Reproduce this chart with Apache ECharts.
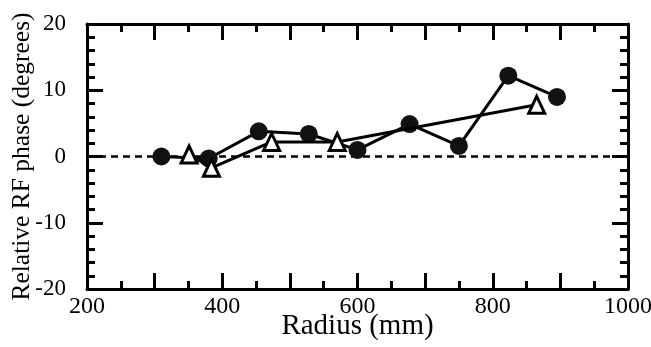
<!DOCTYPE html>
<html><head><meta charset="utf-8">
<script src="https://cdn.jsdelivr.net/npm/echarts@6/dist/echarts.min.js"></script>
<style>html,body{margin:0;padding:0;background:#fff}#c{width:651px;height:347px}</style>
</head><body><div id="c"></div>
<script>
var circleX = [310, 380, 454, 528, 600, 677, 750, 823, 895];
var circleY = [0, -0.3, 3.8, 3.4, 1.0, 4.9, 1.6, 12.2, 9.0];
var triX = [351, 384, 473, 570, 865];
var triY = [0.3, -1.7, 2.2, 2.2, 7.8];
var xTicks = [200, 400, 600, 800, 1000];
var yTicks = [-20, -10, 0, 10, 20];

function pairs(xs, ys){ return xs.map(function(x,i){ return [x, ys[i]]; }); }
var F = 'Liberation Serif';
var chart = echarts.init(document.getElementById('c'));
function axLine(){ return {show:true, onZero:false, lineStyle:{color:'#000', width:3}}; }
function xa(pos, showLab){
  return {
    type:'value', position:pos, min:200, max:1000, interval:100,
    axisLine:axLine(),
    axisTick:{show:true, inside:true, length:16, lineStyle:{color:'#000', width:3}},
    minorTick:{show:true, splitNumber:2, length:8, lineStyle:{color:'#000', width:3}},
    splitLine:{show:false},
    axisLabel:{show:showLab, margin:6, color:'#000', fontFamily:F, fontSize:24,
      formatter:function(v){ return xTicks.indexOf(v)>=0 ? String(v) : ''; }},
    name: showLab ? 'Radius (mm)' : '', nameLocation:'middle', nameGap:23, nameMoveOverlap:false,
    nameTextStyle:{color:'#000', fontFamily:F, fontSize:29}
  };
}
function ya(pos, showLab){
  return {
    type:'value', position:pos, min:-20, max:20, interval:10,
    axisLine:axLine(),
    axisTick:{show:true, inside:true, length:16, lineStyle:{color:'#000', width:3}},
    minorTick:{show:true, splitNumber:5, length:8, lineStyle:{color:'#000', width:3}},
    splitLine:{show:false},
    axisLabel:{show:showLab, margin:21, color:'#000', fontFamily:F, fontSize:23,
      formatter:function(v){ return yTicks.indexOf(v)>=0 ? String(v) : ''; }},
    name: showLab ? 'Relative RF phase (degrees)' : '', nameLocation:'middle', nameGap:52, nameMoveOverlap:false,
    nameTextStyle:{color:'#000', fontFamily:F, fontSize:25.5}
  };
}
chart.setOption({
  animation:false,
  backgroundColor:'#fff',
  grid:{left:87, right:23, top:24, bottom:58, containLabel:false, outerBoundsMode:'none'},
  xAxis:[xa('bottom', true), xa('top', false)],
  yAxis:[ya('left', true), ya('right', false)],
  series:[
    {type:'line', data:pairs(circleX, circleY), symbol:'circle', symbolSize:18,
     lineStyle:{color:'#000', width:3}, itemStyle:{color:'#111'}, z:3,
     markLine:{silent:true, symbol:'none', label:{show:false}, z:1,
       lineStyle:{color:'#000', width:2.5, type:[7,5]}, data:[{yAxis:0}]}},
    {type:'line', data:pairs(triX, triY), symbol:'triangle', symbolSize:[16,17],
     lineStyle:{color:'#000', width:3}, itemStyle:{color:'#fff', borderColor:'#000', borderWidth:3}, z:4}
  ]
});
</script></body></html>
